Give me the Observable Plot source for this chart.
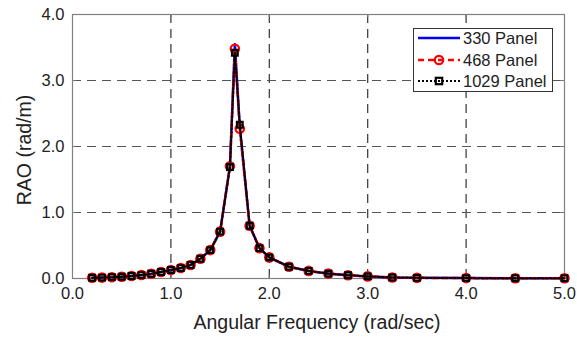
<!DOCTYPE html>
<html>
<head>
<meta charset="utf-8">
<script src="https://cdn.jsdelivr.net/npm/d3@7"></script>
<script src="https://cdn.jsdelivr.net/npm/@observablehq/plot@0.6"></script>
<style>
  html, body { margin: 0; padding: 0; background: #fff; }
  #chart { position: relative; width: 577px; height: 338px; }
  svg { font-family: "Liberation Sans", Arial, sans-serif; }
</style>
</head>
<body>
<div id="chart"></div>
<script>
const freq = [0.2,0.3,0.4,0.5,0.6,0.7,0.8,0.9,1.0,1.1,1.2,1.3,1.4,1.5,1.6,1.65,1.7,1.8,1.9,2.0,2.2,2.4,2.6,2.8,3.0,3.25,3.5,4.0,4.5,5.0];
const rao330  = [0.012,0.014,0.020,0.027,0.037,0.052,0.072,0.098,0.128,0.158,0.205,0.300,0.430,0.710,1.700,3.550,2.300,0.800,0.460,0.320,0.178,0.115,0.074,0.050,0.032,0.015,0.010,0.006,0.004,0.003];
const rao468  = [0.012,0.014,0.020,0.027,0.037,0.052,0.072,0.098,0.128,0.158,0.205,0.300,0.430,0.710,1.700,3.480,2.270,0.800,0.460,0.320,0.178,0.115,0.074,0.050,0.032,0.015,0.010,0.006,0.004,0.003];
const rao1029 = [0.012,0.014,0.020,0.027,0.037,0.052,0.072,0.098,0.128,0.158,0.205,0.300,0.430,0.710,1.690,3.420,2.330,0.800,0.460,0.320,0.178,0.115,0.074,0.050,0.032,0.015,0.010,0.006,0.004,0.003];
const seriesNames = ["330 Panel", "468 Panel", "1029 Panel"];
const xTicks = [0,1,2,3,4,5];
const yTicks = [0,1,2,3,4];
const xLabel = "Angular Frequency (rad/sec)";
const yLabel = "RAO (rad/m)";

const mk = (vals) => freq.map((f, i) => ({f, v: vals[i]}));
const d330 = mk(rao330), d468 = mk(rao468), d1029 = mk(rao1029);

const fmt = d3.format(".1f");
const plot = Plot.plot({
  width: 577,
  height: 338,
  marginLeft: 72,
  marginRight: 13,
  marginTop: 14,
  marginBottom: 60,
  style: {fontFamily: "Liberation Sans, Arial, sans-serif", fontSize: "16px", color: "#222", background: "#fff"},
  x: {domain: [0, 5]},
  y: {domain: [0, 4]},
  marks: [
    Plot.ruleX(xTicks.slice(1, -1), {x: d => d, stroke: "#333", strokeWidth: 1.2, strokeDasharray: "9,6"}),
    Plot.ruleY(yTicks.slice(1, -1), {y: d => d, stroke: "#555", strokeWidth: 1.2, strokeDasharray: "9,6"}),
    Plot.ruleY(yTicks, {y: d => d, x1: 0, x2: 0.04, stroke: "#777"}),
    Plot.ruleY(yTicks, {y: d => d, x1: 4.96, x2: 5, stroke: "#777"}),
    Plot.ruleX(xTicks, {x: d => d, y1: 0, y2: 0.05, stroke: "#777"}),
    Plot.ruleX(xTicks, {x: d => d, y1: 3.95, y2: 4, stroke: "#777"}),
    Plot.frame({stroke: "#808080", strokeWidth: 1.2}),
    Plot.axisX({ticks: xTicks, tickFormat: fmt, tickSize: 0, tickPadding: 9, fontSize: 16.5, fill: "#222", label: null}),
    Plot.axisY({ticks: yTicks, tickFormat: fmt, tickSize: 0, tickPadding: 8, fontSize: 16.5, fill: "#222", label: null}),
    Plot.line(d330, {x: "f", y: "v", stroke: "#0000ff", strokeWidth: 2.5}),
    Plot.line(d468, {x: "f", y: "v", stroke: "#ff0000", strokeWidth: 2.5, strokeDasharray: "6,4"}),
    Plot.dot(d468, {x: "f", y: "v", r: 4.2, stroke: "#ff0000", strokeWidth: 2.2, fill: "none"}),
    Plot.line(d1029, {x: "f", y: "v", stroke: "#000", strokeWidth: 2, strokeDasharray: "2,2"}),
    Plot.dot(d1029, {x: "f", y: "v", symbol: "square", r: 3.2, stroke: "#000", strokeWidth: 2.2, fill: "none"})
  ]
});
document.getElementById("chart").appendChild(plot);

const svg = d3.select(plot);
// axis titles
svg.append("text").attr("x", 317).attr("y", 329).attr("text-anchor", "middle")
  .style("font-size", "19.5px").attr("fill", "#222").text(xLabel);
svg.append("text").attr("transform", "translate(31,150) rotate(-90)").attr("text-anchor", "middle")
  .style("font-size", "19.5px").attr("fill", "#222").text(yLabel);

// legend
const lg = svg.append("g");
lg.append("rect").attr("x", 413.5).attr("y", 28.5).attr("width", 139).attr("height", 63)
  .attr("fill", "#fff").attr("stroke", "#333").attr("stroke-width", 1);
const rows = [38, 60, 81];
const styles = [
  {stroke: "#0000ff", dash: null, w: 2.5},
  {stroke: "#ff0000", dash: "6,4", w: 2.5},
  {stroke: "#000", dash: "2,2", w: 2}
];
seriesNames.forEach((name, i) => {
  const y = rows[i];
  const s = styles[i];
  const l = lg.append("line").attr("x1", 418).attr("x2", 460).attr("y1", y).attr("y2", y)
    .attr("stroke", s.stroke).attr("stroke-width", s.w);
  if (s.dash) l.attr("stroke-dasharray", s.dash);
  if (i === 1) lg.append("circle").attr("cx", 439).attr("cy", y).attr("r", 4.2)
    .attr("fill", "none").attr("stroke", "#ff0000").attr("stroke-width", 2.2);
  if (i === 2) lg.append("rect").attr("x", 435.8).attr("y", y - 3.2).attr("width", 6.4).attr("height", 6.4)
    .attr("fill", "none").attr("stroke", "#000").attr("stroke-width", 2.2);
  lg.append("text").attr("x", 463).attr("y", y).attr("dy", "0.35em").attr("text-anchor", "start")
    .style("font-size", "16.5px").attr("fill", "#222").text(name);
});
</script>
</body>
</html>
